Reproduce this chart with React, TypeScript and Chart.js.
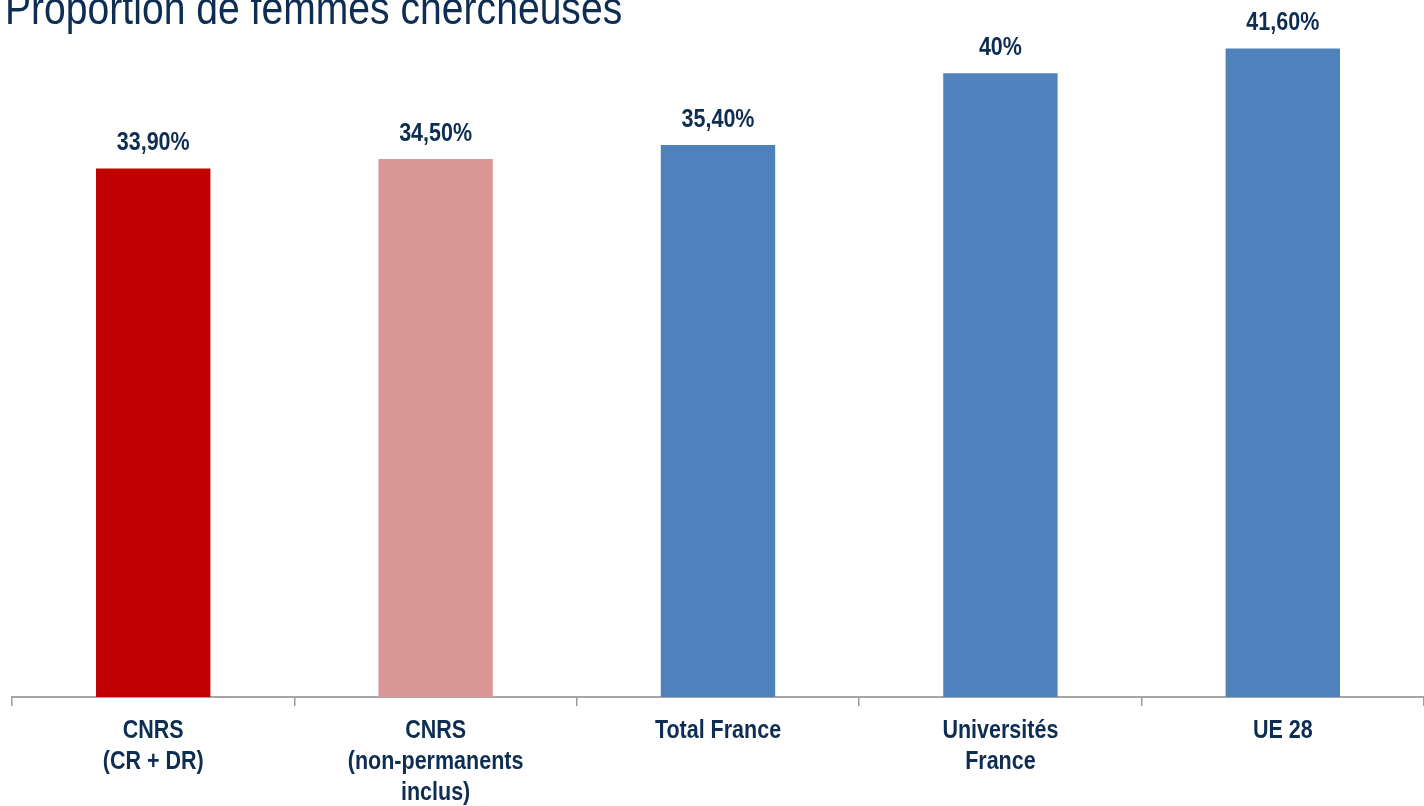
import React, { useEffect, useRef } from "react";
import { Chart, registerables } from "chart.js";

Chart.register(...registerables);

const categories: string[][] = [
  ["CNRS", "(CR + DR)"],
  ["CNRS", "(non-permanents", "inclus)"],
  ["Total France"],
  ["Universités", "France"],
  ["UE 28"],
];
const values: number[] = [33.9, 34.5, 35.4, 40, 41.6];
const valueLabels: string[] = ["33,90%", "34,50%", "35,40%", "40%", "41,60%"];
const barColors: string[] = ["#c00000", "#d99694", "#4f81bd", "#4f81bd", "#4f81bd"];
const titleText = "Proportion de femmes chercheuses";

const FONT = "'Liberation Sans', Arial, sans-serif";
const NAVY = "#0e2d52";
const SX = 0.86;

const labelPlugin = {
  id: "valueLabels",
  afterDatasetsDraw(chart: any) {
    const ctx = chart.ctx;
    const meta = chart.getDatasetMeta(0);
    ctx.save();
    ctx.font = `bold 25px ${FONT}`;
    ctx.fillStyle = NAVY;
    ctx.textAlign = "center";
    ctx.textBaseline = "alphabetic";
    meta.data.forEach((bar: any, i: number) => {
      ctx.save();
      ctx.translate(bar.x, bar.y - 18);
      ctx.scale(SX, 1);
      ctx.fillText(valueLabels[i], 0, 0);
      ctx.restore();
    });
    ctx.restore();
  },
};

const xLabelPlugin = {
  id: "xLabels",
  afterDraw(chart: any) {
    const ctx = chart.ctx;
    const xs = chart.scales.x;
    ctx.save();
    ctx.font = `bold 25px ${FONT}`;
    ctx.fillStyle = NAVY;
    ctx.textAlign = "center";
    ctx.textBaseline = "alphabetic";
    xs.ticks.forEach((_t: any, i: number) => {
      const x = xs.getPixelForTick(i);
      const lines = categories[i];
      lines.forEach((line: string, k: number) => {
        ctx.save();
        ctx.translate(x, xs.top + 41 + k * 31);
        ctx.scale(SX, 1);
        ctx.fillText(line, 0, 0);
        ctx.restore();
      });
    });
    ctx.restore();
  },
};

export default function App() {
  const ref = useRef<HTMLCanvasElement>(null);
  useEffect(() => {
    if (!ref.current) return;
    const chart = new Chart(ref.current, {
      type: "bar",
      data: {
        labels: categories,
        datasets: [
          {
            data: values,
            backgroundColor: barColors,
            barPercentage: 0.81,
            categoryPercentage: 0.5,
          },
        ],
      },
      options: {
        animation: false,
        responsive: true,
        maintainAspectRatio: false,
        layout: { padding: { left: 12, top: 11, right: 0, bottom: 0 } },
        plugins: {
          legend: { display: false },
          tooltip: { enabled: false },
        },
        scales: {
          x: {
            afterFit: (scale: any) => {
              scale.height = 109;
            },
            grid: {
              display: true,
              drawOnChartArea: false,
              drawTicks: true,
              tickLength: 9,
              color: "#9a9a9a",
              lineWidth: 1.5,
            },
            border: { display: true, color: "#a6a6a6", width: 2 },
            ticks: {
              display: false,
              autoSkip: false,
              maxRotation: 0,
            },
          },
          y: {
            display: false,
            min: 0,
            max: 44,
          },
        },
      },
      plugins: [labelPlugin, xLabelPlugin],
    });
    return () => chart.destroy();
  }, []);

  return (
    <div style={{ position: "absolute", left: 0, top: 0, width: 1424, height: 806, background: "#fff", overflow: "hidden" }}>
      <canvas ref={ref} />
      <div
        style={{
          position: "absolute",
          left: 5,
          top: -16,
          fontFamily: FONT,
          fontSize: 46,
          color: NAVY,
          whiteSpace: "nowrap",
          lineHeight: "48px",
          transform: "scaleX(0.85)",
          transformOrigin: "0 0",
        }}
      >
        {titleText}
      </div>
    </div>
  );
}
